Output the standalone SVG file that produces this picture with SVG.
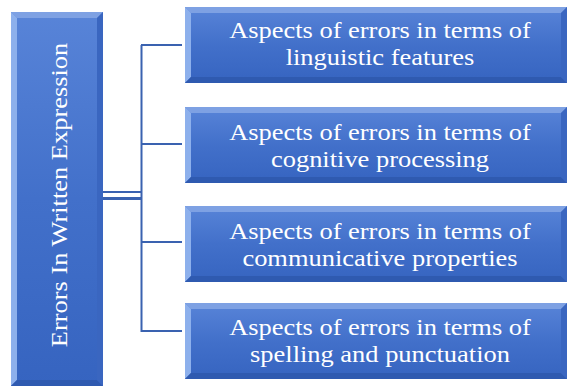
<svg xmlns="http://www.w3.org/2000/svg" xmlns:xlink="http://www.w3.org/1999/xlink" width="568" height="387" viewBox="0 0 568 387">
  <style>
    .face { fill: url(#faceGrad); }
    .bt { fill: #7ea1e3; }
    .bl { fill: #8db0ec; }
    .bb { fill: #2f5ab0; }
    .br { fill: #3a66c0; }
    .lbl { font-family: "Liberation Serif", "Times New Roman", serif; font-size: 23px; fill: #ffffff; text-anchor: middle; }
    .conn { stroke: #3a62b0; fill: none; }
  </style>
  <defs>
    <linearGradient id="faceGrad" x1="0" y1="0" x2="0" y2="1">
      <stop offset="0" stop-color="#5884d8"/>
      <stop offset="0.5" stop-color="#4270ca"/>
      <stop offset="1" stop-color="#3664c0"/>
    </linearGradient>
    <g id="rbox">
      <rect class="face" x="0" y="0" width="382" height="76"/>
      <polygon class="bt" points="0,0 382,0 376,6 6,6"/>
      <polygon class="bl" points="0,0 6,6 6,70 0,76"/>
      <polygon class="bb" points="0,76 6,70 376,70 382,76"/>
      <polygon class="br" points="382,0 382,76 376,70 376,6"/>
    </g>
  </defs>
  <rect width="568" height="387" fill="#ffffff"/>

  <g id="connectors">
    <line class="conn" x1="103" y1="192" x2="141" y2="192" stroke-width="2"/>
    <line class="conn" x1="103" y1="198.5" x2="141" y2="198.5" stroke-width="3"/>
    <line class="conn" x1="141.5" y1="45" x2="141.5" y2="332" stroke-width="2"/>
    <line class="conn" x1="141" y1="45" x2="182" y2="45" stroke-width="2"/>
    <line class="conn" x1="141" y1="144" x2="182" y2="144" stroke-width="2"/>
    <line class="conn" x1="141" y1="242" x2="182" y2="242" stroke-width="2"/>
    <line class="conn" x1="141" y1="331" x2="182" y2="331" stroke-width="2"/>
  </g>

  <g id="root">
    <rect class="face" x="11" y="12" width="92" height="374"/>
    <polygon class="bt" points="11,12 103,12 97,18 17,18"/>
    <polygon class="bl" points="11,12 17,18 17,380 11,386"/>
    <polygon class="bb" points="11,386 17,380 97,380 103,386"/>
    <polygon class="br" points="103,12 103,386 97,380 97,18"/>
    <text class="lbl" transform="translate(67,195) rotate(-90) scale(1.15,1)">Errors In Written Expression</text>
  </g>

  <g id="node1">
    <use xlink:href="#rbox" x="185" y="7"/>
    <g transform="translate(380,0) scale(1.15,1)">
      <text class="lbl" x="0" y="38">Aspects of errors in terms of</text>
      <text class="lbl" x="0" y="65">linguistic features</text>
    </g>
  </g>

  <g id="node2">
    <use xlink:href="#rbox" x="185" y="107"/>
    <g transform="translate(380,0) scale(1.15,1)">
      <text class="lbl" x="0" y="140">Aspects of errors in terms of</text>
      <text class="lbl" x="0" y="167">cognitive processing</text>
    </g>
  </g>

  <g id="node3">
    <use xlink:href="#rbox" x="185" y="206"/>
    <g transform="translate(380,0) scale(1.15,1)">
      <text class="lbl" x="0" y="239">Aspects of errors in terms of</text>
      <text class="lbl" x="0" y="266">communicative properties</text>
    </g>
  </g>

  <g id="node4">
    <use xlink:href="#rbox" x="185" y="303"/>
    <g transform="translate(380,0) scale(1.15,1)">
      <text class="lbl" x="0" y="335">Aspects of errors in terms of</text>
      <text class="lbl" x="0" y="362">spelling and punctuation</text>
    </g>
  </g>
</svg>
